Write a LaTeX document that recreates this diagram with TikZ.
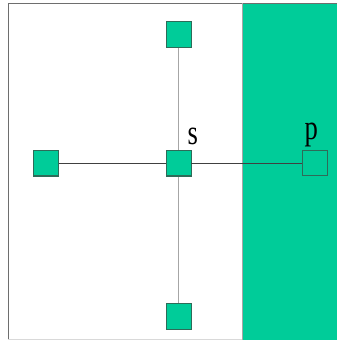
\documentclass[tikz,border=0pt]{standalone}
\usepackage{fontspec}
\setmainfont{Liberation Serif}
\definecolor{mint}{HTML}{00CC99}
\definecolor{sqborder}{HTML}{2E6B58}
\definecolor{frame}{HTML}{6E6E6E}
\begin{document}
\begin{tikzpicture}[x=1pt,y=-1pt,
  sq/.style={draw=sqborder,line width=1.2pt,fill=mint,minimum width=25pt,minimum height=25.5pt,inner sep=0pt,outer sep=0pt},
  sqempty/.style={draw=sqborder,line width=1pt,minimum width=25pt,minimum height=25.5pt,inner sep=0pt,outer sep=0pt},
  lbl/.style={font=\fontsize{35}{35}\selectfont,inner sep=0pt,xscale=0.76}]
\useasboundingbox (0,0) rectangle (337,340);
\fill[white] (0,0) rectangle (337,340);
\fill[mint] (242,3.3) rectangle (337,340);
\draw[frame,line width=1pt] (337,3.3) -- (8.3,3.3) -- (8.3,340);
\draw[black!15,line width=0.6pt] (8.3,339.3) -- (242,339.3);
\draw[black!35,line width=0.8pt] (242,3.3) -- (242,340);
\coordinate (vt) at (178.7,45);
\coordinate (vb) at (178.7,306);
\draw[black!35,line width=1.1pt] (vt) -- (vb);
\node[sq] (top) at (178.7,34.5) {};
\node[sq] (bot) at (178.7,316.5) {};
\node[sq] (left) at (46.2,163.2) {};
\node[sq] (s) at (178.7,163.2) {};
\node[sqempty] (p) at (314.8,163.2) {};
\draw[black!75,line width=0.9pt] (left) -- (s);
\draw[black!75,line width=0.9pt] (s) -- (p);
\node[lbl] (sl) at (192.7,136.3) {s};
\node[lbl] (pl) at (311.3,134.7) {p};
\end{tikzpicture}
\end{document}
